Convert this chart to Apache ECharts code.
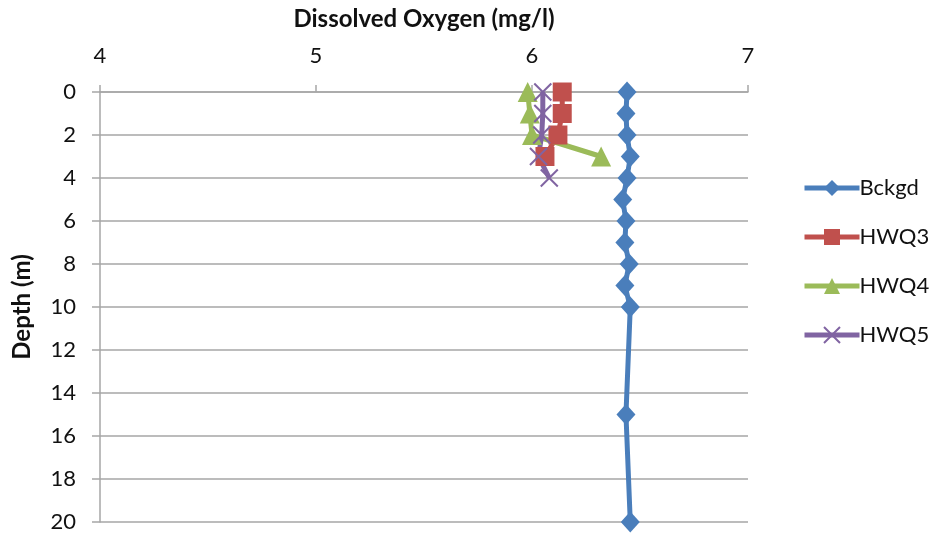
<!DOCTYPE html>
<html>
<head>
<meta charset="utf-8">
<script src="https://cdn.jsdelivr.net/npm/echarts@6/dist/echarts.min.js"></script>
<style>
  html, body { margin: 0; padding: 0; background: #ffffff; }
  #chart { width: 937px; height: 533px; }
</style>
</head>
<body>
<div id="chart"></div>
<script>
// Dissolved oxygen profiles (mg/l) against depth (m)
const depthBckgd = [0, 1, 2, 3, 4, 5, 6, 7, 8, 9, 10, 15, 20];
const doBckgd    = [6.44, 6.435, 6.44, 6.455, 6.44, 6.42, 6.435, 6.43, 6.45, 6.43, 6.455, 6.435, 6.455];

const depthHWQ3 = [0, 1, 2, 3];
const doHWQ3    = [6.14, 6.14, 6.12, 6.06];

const depthHWQ4 = [0, 1, 2, 3];
const doHWQ4    = [5.98, 5.99, 6.0, 6.32];

const depthHWQ5 = [0, 1, 2, 3, 4];
const doHWQ5    = [6.05, 6.05, 6.045, 6.03, 6.08];

const xTicks = { min: 4, max: 7, step: 1 };
const yTicks = { min: 0, max: 20, step: 2 };

const FONT = 'Lato, "Open Sans", sans-serif';
const GRID_GREY = '#a6a6a6';
const TEXT = '#111111';

function pairs(xs, ys) {
  return ys.map((d, i) => [xs[i], d]);
}

// "x" marker drawn as two strokes
const crossPath = 'path://M0,0 L10,10 M10,0 L0,10';

function lineSeries(name, color, xs, ys, symbol, size, markerStyle) {
  return {
    name: name,
    type: 'line',
    data: pairs(xs, ys),
    symbol: symbol,
    symbolSize: size,
    lineStyle: { color: color, width: 5 },
    itemStyle: markerStyle || { color: color },
    emphasis: { disabled: true },
    animation: false
  };
}

const chart = echarts.init(document.getElementById('chart'), null, { renderer: 'canvas' });

chart.setOption({
  backgroundColor: '#ffffff',
  textStyle: { fontFamily: FONT },
  grid: { left: 100, top: 92, right: 189, bottom: 11, containLabel: false, outerBoundsMode: 'none' },
  xAxis: {
    type: 'value',
    position: 'top',
    min: xTicks.min,
    max: xTicks.max,
    interval: xTicks.step,
    name: 'Dissolved Oxygen (mg/l)',
    nameLocation: 'middle',
    nameGap: 61,
    nameTextStyle: { fontFamily: FONT, fontSize: 24, fontWeight: 'bold', color: TEXT },
    axisLine: { show: true, lineStyle: { color: GRID_GREY, width: 1.5 } },
    axisTick: { show: true, length: 7, lineStyle: { color: GRID_GREY, width: 1.5 } },
    axisLabel: { margin: 25, fontFamily: FONT, fontSize: 22, color: TEXT },
    splitLine: { show: false }
  },
  yAxis: {
    type: 'value',
    inverse: true,
    min: yTicks.min,
    max: yTicks.max,
    interval: yTicks.step,
    name: 'Depth (m)',
    nameLocation: 'middle',
    nameGap: 66,
    nameRotate: 90,
    nameTextStyle: { fontFamily: FONT, fontSize: 24, fontWeight: 'bold', color: TEXT },
    axisLine: { show: true, onZero: false, lineStyle: { color: GRID_GREY, width: 1.5 } },
    axisTick: { show: true, length: 8, lineStyle: { color: GRID_GREY, width: 1.5 } },
    axisLabel: { margin: 24, fontFamily: FONT, fontSize: 22, color: TEXT },
    splitLine: { show: true, lineStyle: { color: GRID_GREY, width: 1.5 } }
  },
  legend: {
    orient: 'vertical',
    left: 797,
    top: 172,
    itemWidth: 55,
    itemHeight: 20,
    itemGap: 27,
    lineStyle: { width: 5 },
    textStyle: { fontFamily: FONT, fontSize: 22, color: TEXT, padding: [0, 0, 0, -5] },
    data: ['Bckgd', 'HWQ3', 'HWQ4', 'HWQ5']
  },
  series: [
    lineSeries('Bckgd', '#4a7ebb', doBckgd, depthBckgd, 'diamond', [19, 21]),
    lineSeries('HWQ3', '#c0504d', doHWQ3, depthHWQ3, 'rect', 19),
    lineSeries('HWQ4', '#9bbb59', doHWQ4, depthHWQ4, 'triangle', 20),
    lineSeries('HWQ5', '#8064a2', doHWQ5, depthHWQ5, crossPath, 17,
      { color: '#8064a2', borderColor: '#8064a2', borderWidth: 2 })
  ]
});
</script>
</body>
</html>
